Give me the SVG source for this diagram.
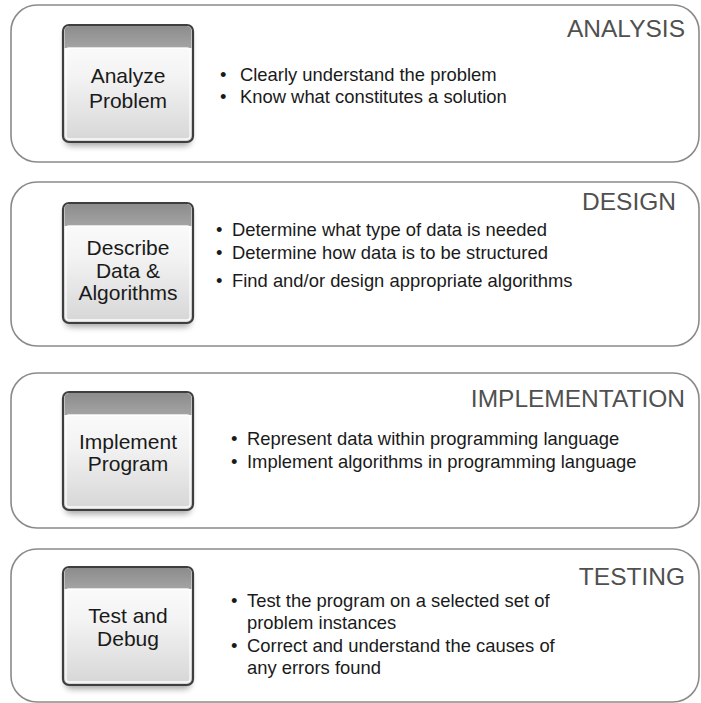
<svg xmlns="http://www.w3.org/2000/svg" width="701" height="703" viewBox="0 0 701 703">
<defs>
<linearGradient id="body" x1="0" y1="0" x2="0" y2="1">
<stop offset="0" stop-color="#ffffff"/>
<stop offset="0.45" stop-color="#f3f3f3"/>
<stop offset="1" stop-color="#d6d6d6"/>
</linearGradient>
<linearGradient id="hdr" x1="0" y1="0" x2="0" y2="1">
<stop offset="0" stop-color="#8c8c8c"/>
<stop offset="1" stop-color="#a4a4a4"/>
</linearGradient>
<filter id="shadow" x="-20%" y="-20%" width="140%" height="150%">
<feGaussianBlur stdDeviation="3"/>
</filter>
</defs>
<style>
.panel{fill:#ffffff;stroke:#8a8a8a;stroke-width:1.6}
.shadow{fill:#000;opacity:0.35;filter:url(#shadow)}
.box{fill:url(#body);stroke:#3e3e3e;stroke-width:2.2}
.hdr{fill:url(#hdr)}
.hi{fill:none;stroke:#ffffff;stroke-width:1.3;opacity:0.9}
.lbl{font-family:"Liberation Sans",Arial,sans-serif;font-size:21px;fill:#1a1a1a;text-anchor:middle}
.ttl{font-family:"Liberation Sans",Arial,sans-serif;font-size:24.5px;fill:#505050;text-anchor:end}
.txt{font-family:"Liberation Sans",Arial,sans-serif;font-size:18.4px;fill:#1a1a1a}
</style>
<rect width="701" height="703" fill="#ffffff"/>
<g id="connectors"/>

<g id="analysis">
<rect class="panel" x="11" y="5" width="688" height="157" rx="26"/>
<rect class="shadow" x="65" y="30" width="126" height="116" rx="6"/>
<rect class="box" x="63" y="25" width="130" height="117" rx="6"/>
<path class="hdr" d="M64.5,48 V31 a5,5 0 0 1 5,-5 H186.5 a5,5 0 0 1 5,5 V48 Z"/>
<rect class="hi" x="66" y="48" width="124" height="91" rx="3"/>
<text class="lbl" x="128" y="83">Analyze</text>
<text class="lbl" x="128" y="108">Problem</text>
<text class="ttl" x="685" y="37">ANALYSIS</text>
<text class="txt" x="220" y="81">•</text>
<text class="txt" x="240" y="81">Clearly understand the problem</text>
<text class="txt" x="220" y="103">•</text>
<text class="txt" x="240" y="103">Know what constitutes a solution</text>
</g>

<g id="design">
<rect class="panel" x="11" y="182" width="688" height="164" rx="26"/>
<rect class="shadow" x="65" y="208" width="126" height="119" rx="6"/>
<rect class="box" x="63" y="203" width="130" height="120" rx="6"/>
<path class="hdr" d="M64.5,226 V209 a5,5 0 0 1 5,-5 H186.5 a5,5 0 0 1 5,5 V226 Z"/>
<rect class="hi" x="66" y="226" width="124" height="94" rx="3"/>
<text class="lbl" x="128" y="255">Describe</text>
<text class="lbl" x="128" y="278">Data &amp;</text>
<text class="lbl" x="128" y="300">Algorithms</text>
<text class="ttl" x="676" y="210">DESIGN</text>
<text class="txt" x="216" y="236">•</text>
<text class="txt" x="232" y="236">Determine what type of data is needed</text>
<text class="txt" x="216" y="259">•</text>
<text class="txt" x="232" y="259">Determine how data is to be structured</text>
<text class="txt" x="216" y="287">•</text>
<text class="txt" x="232" y="287">Find and/or design appropriate algorithms</text>
</g>

<g id="implementation">
<rect class="panel" x="11" y="373" width="688" height="155" rx="26"/>
<rect class="shadow" x="65" y="397" width="126" height="117" rx="6"/>
<rect class="box" x="63" y="392" width="130" height="118" rx="6"/>
<path class="hdr" d="M64.5,415 V398 a5,5 0 0 1 5,-5 H186.5 a5,5 0 0 1 5,5 V415 Z"/>
<rect class="hi" x="66" y="415" width="124" height="92" rx="3"/>
<text class="lbl" x="128" y="449">Implement</text>
<text class="lbl" x="128" y="471">Program</text>
<text class="ttl" x="685" y="407">IMPLEMENTATION</text>
<text class="txt" x="231" y="445">•</text>
<text class="txt" x="247" y="445">Represent data within programming language</text>
<text class="txt" x="231" y="468">•</text>
<text class="txt" x="247" y="468">Implement algorithms in programming language</text>
</g>

<g id="testing">
<rect class="panel" x="11" y="549" width="688" height="153" rx="26"/>
<rect class="shadow" x="65" y="572" width="126" height="117" rx="6"/>
<rect class="box" x="63" y="567" width="130" height="118" rx="6"/>
<path class="hdr" d="M64.5,589 V573 a5,5 0 0 1 5,-5 H186.5 a5,5 0 0 1 5,5 V589 Z"/>
<rect class="hi" x="66" y="589" width="124" height="93" rx="3"/>
<text class="lbl" x="128" y="623">Test and</text>
<text class="lbl" x="128" y="646">Debug</text>
<text class="ttl" x="685" y="585">TESTING</text>
<text class="txt" x="231" y="607">•</text>
<text class="txt" x="247" y="607">Test the program on a selected set of</text>
<text class="txt" x="247" y="629">problem instances</text>
<text class="txt" x="231" y="652">•</text>
<text class="txt" x="247" y="652">Correct and understand the causes of</text>
<text class="txt" x="247" y="674">any errors found</text>
</g>
</svg>
